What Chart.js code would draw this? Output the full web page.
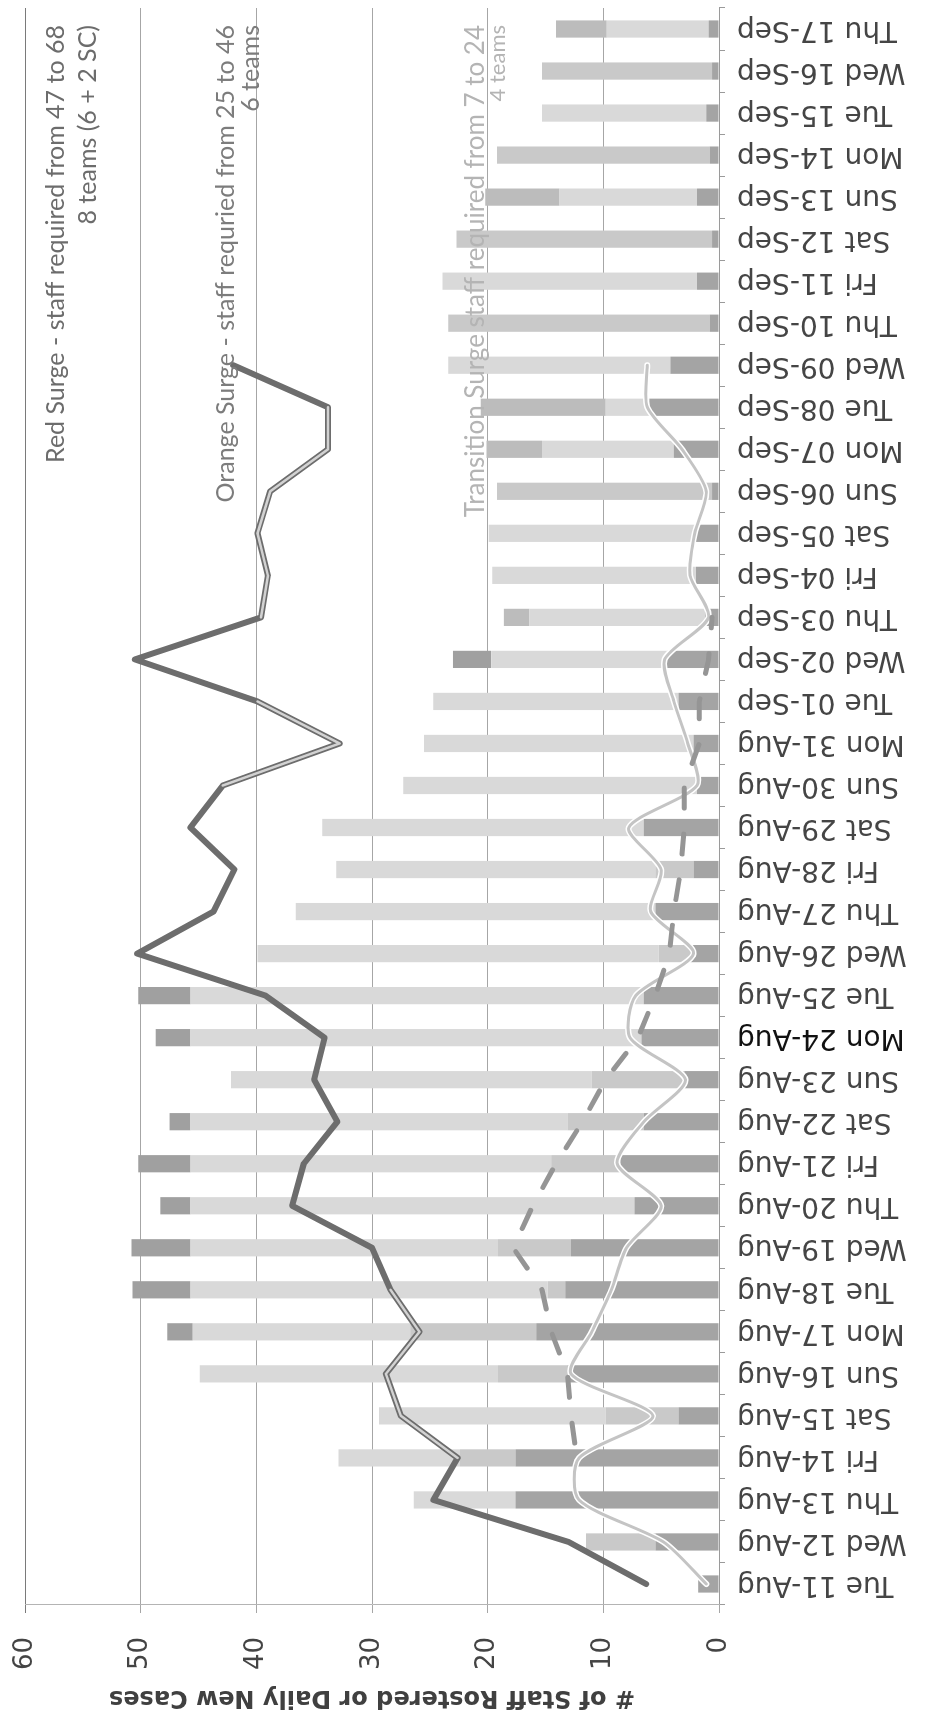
<!DOCTYPE html>
<html><head><meta charset="utf-8">
<script src="https://cdn.jsdelivr.net/npm/chart.js@4/dist/chart.umd.min.js"></script>
<style>
html,body{margin:0;padding:0;background:#fff;overflow:hidden;width:925px;height:1718px;}
#frame{position:relative;width:925px;height:1718px;overflow:hidden;background:#fff;}
#rot{position:absolute;left:0;top:0;width:1718px;height:925px;transform-origin:0 0;transform:translateY(1718px) rotate(-90deg);}
</style></head><body>
<div id="frame"><div id="rot"><canvas id="c"></canvas></div></div>
<script>
const categories = ['Tue 11-Aug','Wed 12-Aug','Thu 13-Aug','Fri 14-Aug','Sat 15-Aug','Sun 16-Aug','Mon 17-Aug','Tue 18-Aug','Wed 19-Aug','Thu 20-Aug','Fri 21-Aug','Sat 22-Aug','Sun 23-Aug','Mon 24-Aug','Tue 25-Aug','Wed 26-Aug','Thu 27-Aug','Fri 28-Aug','Sat 29-Aug','Sun 30-Aug','Mon 31-Aug','Tue 01-Sep','Wed 02-Sep','Thu 03-Sep','Fri 04-Sep','Sat 05-Sep','Sun 06-Sep','Mon 07-Sep','Tue 08-Sep','Wed 09-Sep','Thu 10-Sep','Fri 11-Sep','Sat 12-Sep','Sun 13-Sep','Mon 14-Sep','Tue 15-Sep','Wed 16-Sep','Thu 17-Sep'];

const valueTicks = [0, 10, 20, 30, 40, 50, 60];

// stacked staff-rostered segments (bottom -> top)
const staffSegA = [1.8,5.5,17.6,17.6,3.5,13.1,15.8,13.3,12.8,7.3,8.5,6.5,3.0,6.7,6.5,2.5,5.5,2.2,6.5,1.9,2.2,3.5,4.5,1.2,2.0,2.0,0.6,3.9,6.0,4.2,0.8,1.9,0.6,1.9,0.8,1.1,0.6,0.9];
const staffSegB = [0,6.0,0,4.8,6.3,6.0,10.9,1.5,6.3,0,6.0,6.6,8.0,0,0,2.7,0,3.3,0,0,0,0,0,0,0,0,18.6,0,0,0,22.6,0,22.1,0,18.4,0,14.7,0];
const staffSegC = [0,0,8.8,10.5,19.6,25.8,18.8,30.9,26.6,38.4,31.2,32.6,31.2,39.0,39.2,34.7,31.1,27.6,27.8,25.4,23.3,21.2,15.2,15.2,17.6,17.9,0,11.4,3.8,19.2,0,22.0,0,11.9,0,14.2,0,8.8];
const staffSegE = [0,0,0,0,0,0,0,0,0,0,0,0,0,0,0,0,0,0,0,0,0,0,0,2.2,0,0,0,4.8,10.8,0,0,0,0,6.4,0,0,0,4.4];
const staffSegD = [0,0,0,0,0,0,2.2,5.0,5.1,2.6,4.5,1.8,0,3.0,4.5,0,0,0,0,0,0,0,3.3,0,0,0,0,0,0,0,0,0,0,0,0,0,0,0];

const staffRequired = [6.3,13.0,24.7,22.6,27.5,28.8,25.9,28.4,30.0,36.9,35.9,33.0,35.0,34.1,39.2,50.3,43.7,41.9,45.7,42.9,32.8,39.9,50.5,39.6,39.0,39.9,38.8,33.8,33.8,42.0,null,null,null,null,null,null,null,null];
const dailyNewCases = [1.1,4.8,12.1,12.1,5.7,12.8,11.0,9.3,8.0,5.0,8.8,6.5,2.9,7.7,7.2,2.2,5.9,5.0,7.8,1.9,2.7,3.9,4.7,0.9,2.5,2.1,1.1,3.2,6.2,6.2,null,null,null,null,null,null,null,null];
const casesTrend = [null,null,null,12.3,12.8,13.1,14.5,15.3,17.8,16.1,14.1,11.8,9.8,7.0,5.5,4.3,3.9,3.3,3.0,3.0,1.7,1.7,0.9,0.6,null,null,null,null,null,null,null,null,null,null,null,null,null,null];

// segments of the required line drawn in the lighter (outlined) style
const requiredLightSegments = [3,4,5,6,19,20,23,24,25,26,27];

const surgeNotes = [
  {text:'Red Surge - staff required from 47 to 68', at:57.3, color:'#6c6c6c', size:25},
  {text:'8 teams (6 + 2 SC)', at:54.6, color:'#6c6c6c', size:25},
  {text:'Orange Surge - staff requried from 25 to 46', at:42.6, color:'#7c7c7c', size:25},
  {text:'6 teams', at:40.5, color:'#7c7c7c', size:25},
  {text:'Transition Surge staff required from 7 to 24', at:21.0, color:'#b4b4b4', size:26},
  {text:'4 teams', at:19.1, color:'#b4b4b4', size:22}
];

const notesPlugin = {
  id: 'notes',
  afterDatasetsDraw(chart) {
    const {ctx, chartArea, scales} = chart;
    ctx.save();
    ctx.textAlign = 'right';
    ctx.textBaseline = 'middle';
    surgeNotes.forEach(n => {
      ctx.font = n.size + 'px Lato, "Open Sans", sans-serif';
      ctx.fillStyle = n.color;
      ctx.fillText(n.text, chartArea.right - 17, scales.y.getPixelForValue(n.at));
    });
    ctx.restore();
  }
};

const barDs = (label, data, color) => ({
  type: 'bar', label, data, backgroundColor: color, borderWidth: 0,
  stack: 'staff', order: 10, categoryPercentage: 1, barPercentage: 0.41
});
const lineDs = (label, data, extra) => Object.assign({
  type: 'line', label, data, pointRadius: 0, pointHoverRadius: 0, fill: false,
  spanGaps: false, borderJoinStyle: 'round', borderCapStyle: 'round'
}, extra);

new Chart(document.getElementById('c'), {
  data: {
    labels: categories,
    datasets: [
      barDs('Staff A', staffSegA, '#a4a4a4'),
      barDs('Staff B', staffSegB, '#c9c9c9'),
      barDs('Staff C', staffSegC, '#d9d9d9'),
      barDs('Staff E', staffSegE, '#bcbcbc'),
      barDs('Staff D', staffSegD, '#a0a0a0'),
      lineDs('cases halo', dailyNewCases, {borderColor:'#ffffff', borderWidth:6, tension:0.25, order:6, stack:'halo'}),
      lineDs('Daily New Cases', dailyNewCases, {borderColor:'#c4c4c4', borderWidth:3, tension:0.25, order:5, stack:'cases'}),
      lineDs('Trend', casesTrend, {borderColor:'#959595', borderWidth:5, borderDash:[20,26], borderDashOffset:31, tension:0, order:4, stack:'trend'}),
      lineDs('Staff Required', staffRequired, {borderColor:'#6d6d6d', borderWidth:6, tension:0, order:2, stack:'req'}),
      lineDs('Staff Required light', staffRequired, {borderWidth:2.5, tension:0, order:1, stack:'req2',
        borderColor:'rgba(0,0,0,0)',
        segment:{borderColor: c => requiredLightSegments.includes(c.p0DataIndex) ? '#d2d2d2' : 'rgba(0,0,0,0)'}})
    ]
  },
  options: {
    responsive: true, maintainAspectRatio: false, animation: false, devicePixelRatio: 1,
    layout: {padding: {top: 25, right: 8, left: 0, bottom: 0}},
    plugins: {legend: {display: false}, tooltip: {enabled: false}},
    scales: {
      x: {
        stacked: true, offset: true,
        grid: {drawOnChartArea: false, drawTicks: true, tickLength: 6, color: '#9a9a9a', offset: true},
        border: {display: true, color: '#9a9a9a', width: 1},
        ticks: {
          autoSkip: false, maxRotation: 90, minRotation: 90, padding: 12,
          color: c => c.index === 13 ? '#111' : '#454545',
          font: {family: 'DejaVu Sans', size: 28}
        },
        afterFit: s => { s.height = 206; s.paddingLeft = 0; s.paddingRight = 0; }
      },
      y: {
        stacked: true, min: 0, max: 60,
        afterBuildTicks: s => { s.ticks = valueTicks.map(v => ({value: v})); },
        grid: {color: c => (c.tick && c.tick.value === 60) ? '#7a7a7a' : '#a6a6a6', lineWidth: 1, tickLength: 8, drawTicks: true},
        border: {display: true, color: '#b4b4b4'},
        ticks: {padding: 24, color: '#444', font: {family: 'DejaVu Sans', size: 26}},
        title: {display: true, text: '# of Staff Rostered or Daily New Cases', color: '#404040',
          font: {family: 'DejaVu Sans', size: 24, weight: 'bold'}, padding: {top: 6, bottom: 0}},
        afterFit: s => { s.width = 113; s.paddingTop = 0; s.paddingBottom = 0; }
      }
    }
  },
  plugins: [notesPlugin]
});
</script>
</body></html>
